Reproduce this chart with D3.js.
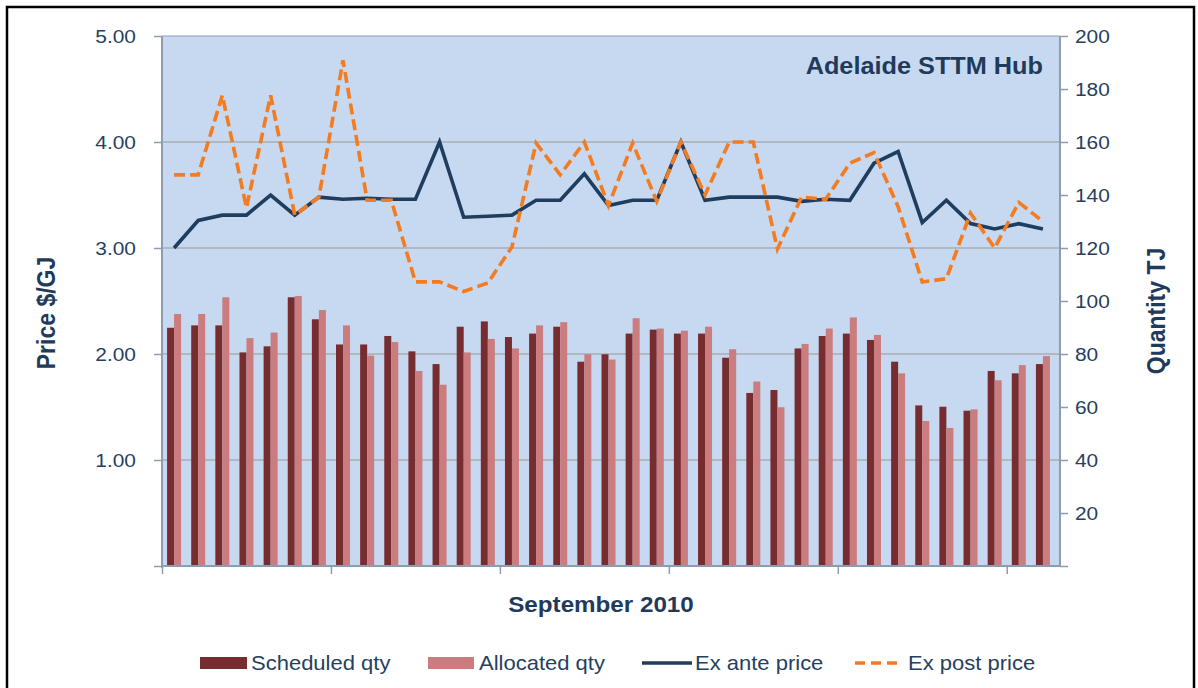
<!DOCTYPE html>
<html><head><meta charset="utf-8">
<script src="https://cdn.jsdelivr.net/npm/d3@7"></script>
<style>
body{margin:0;background:#fff;}
svg{display:block;font-family:"Liberation Sans",Arial,Helvetica,sans-serif;}
</style>
</head><body>
<svg id="chart" width="1198" height="688"></svg>
<script>
// ---- data ----
const categories = ["1","2","3","4","5","6","7","8","9","10","11","12","13","14","15","16","17","18","19","20",
  "21","22","23","24","25","26","27","28","29","30","31","32","33","34","35","36","37"];
const scheduledQty = [89.9,90.8,90.8,80.6,82.9,101.4,93.1,83.6,83.6,86.8,81.0,76.2,90.3,92.3,86.4,87.7,90.3,77.1,79.9,87.7,
  89.2,87.7,87.7,78.6,65.3,66.4,82.1,86.8,87.7,85.3,77.1,60.6,60.1,58.6,73.6,72.7,76.2];
const allocatedQty = [95.1,95.1,101.4,86.0,88.1,101.9,96.6,90.8,79.4,84.5,73.6,68.4,80.6,85.7,82.1,90.8,92.0,79.9,77.9,93.5,
  89.6,88.8,90.3,81.8,69.6,59.9,83.8,89.6,93.8,87.2,72.7,54.7,52.1,59.1,70.1,75.8,79.2];
const exAntePrice = [3.00,3.26,3.31,3.31,3.50,3.31,3.48,3.46,3.47,3.46,3.46,4.00,3.29,3.30,3.31,3.45,3.45,3.70,3.40,3.45,
  3.45,4.00,3.45,3.48,3.48,3.48,3.44,3.46,3.45,3.80,3.91,3.24,3.45,3.23,3.18,3.23,3.18];
const exPostPrice = [3.69,3.69,4.44,3.38,4.44,3.31,3.48,4.77,3.45,3.45,2.68,2.68,2.59,2.67,3.01,3.99,3.69,4.00,3.40,3.99,
  3.44,4.00,3.50,4.00,4.00,2.99,3.48,3.46,3.80,3.90,3.39,2.68,2.71,3.33,3.00,3.43,3.25];
const priceTicks = [0,1,2,3,4,5];
const qtyTicks = [0,20,40,60,80,100,120,140,160,180,200];
const dayTickEvery = 7;
const seriesNames = ["Scheduled qty","Allocated qty","Ex ante price","Ex post price"];
const chartTitle = "Adelaide STTM Hub";
const xTitle = "September 2010";
const yLeftTitle = "Price $/GJ";
const yRightTitle = "Quantity  TJ";

// ---- styling / layout ----
const C = {
  bg:"#C6D9F0", grid:"#A9ADB3", axis:"#8E9CB0", text:"#263F5E", title:"#1F3A5A",
  sched:"#772C2F", alloc:"#CA7C7E", ante:"#1F3D5E", post:"#F47B20"
};
const L = 162, R = 1060, T = 36, B = 566, bandR = 1055;
const SX = 1.1; // horizontal stretch of the reference text

const svg = d3.select("#chart");
svg.append("rect").attr("x",7).attr("y",7).attr("width",1187).attr("height",700)
  .attr("fill","#fff").attr("stroke","#000").attr("stroke-width",2.5);

const x = d3.scaleBand().domain(categories).range([L,bandR]).paddingInner(0.42).paddingOuter(0.21);
const xs = d3.scaleBand().domain(["s","a"]).range([0,x.bandwidth()]);
const xIdx = d3.scaleLinear().domain([0,categories.length]).range([L,bandR]);
const yL = d3.scaleLinear().domain([0,5]).range([B,T]);
const yR = d3.scaleLinear().domain([0,200]).range([B,T]);

// plot background
svg.append("rect").attr("x",L).attr("y",T).attr("width",R-L).attr("height",B-T).attr("fill",C.bg);

// gridlines
svg.append("g").selectAll("line").data(priceTicks.filter(d=>d>0 && d<5)).join("line")
  .attr("x1",L).attr("x2",R).attr("y1",d=>yL(d)).attr("y2",d=>yL(d))
  .attr("stroke",C.grid).attr("stroke-width",1.6);

// bars
const gb = svg.append("g");
categories.forEach((c,i)=>{
  gb.append("rect").attr("x",x(c)+xs("s")).attr("width",xs.bandwidth())
    .attr("y",yR(scheduledQty[i])).attr("height",B-yR(scheduledQty[i])).attr("fill",C.sched);
  gb.append("rect").attr("x",x(c)+xs("a")).attr("width",xs.bandwidth())
    .attr("y",yR(allocatedQty[i])).attr("height",B-yR(allocatedQty[i])).attr("fill",C.alloc);
});

// lines
const cx = (d,i)=>x(categories[i])+x.bandwidth()/2;
const lineGen = d3.line().x(cx).y(d=>yL(d));
svg.append("path").attr("d",lineGen(exAntePrice)).attr("fill","none")
  .attr("stroke",C.ante).attr("stroke-width",3.6).attr("stroke-linejoin","miter");
svg.append("path").attr("d",lineGen(exPostPrice)).attr("fill","none")
  .attr("stroke",C.post).attr("stroke-width",3.6).attr("stroke-dasharray","11,5");

// frame lines
svg.append("line").attr("x1",L).attr("x2",R).attr("y1",T).attr("y2",T).attr("stroke",C.axis).attr("stroke-width",1.2);
svg.append("line").attr("x1",L).attr("x2",R).attr("y1",B).attr("y2",B).attr("stroke",C.axis).attr("stroke-width",2);
svg.append("line").attr("x1",L).attr("x2",L).attr("y1",T).attr("y2",B+2).attr("stroke",C.axis).attr("stroke-width",2);
svg.append("line").attr("x1",R).attr("x2",R).attr("y1",T).attr("y2",B).attr("stroke",C.axis).attr("stroke-width",2);

// axes
const ax = svg.append("g").attr("transform",`translate(0,${B})`)
  .call(d3.axisBottom(xIdx).tickValues(d3.range(0,categories.length,dayTickEvery)).tickFormat("").tickSize(8));
ax.select(".domain").remove();
ax.selectAll("line").attr("stroke",C.axis).attr("stroke-width",1.5);

const al = svg.append("g").attr("transform",`translate(${L},0)`)
  .call(d3.axisLeft(yL).tickValues(priceTicks).tickSize(8).tickFormat(d=>d===0?"":d.toFixed(2)));
al.select(".domain").remove();
al.selectAll("line").attr("stroke",C.axis).attr("stroke-width",1.5);
al.selectAll("text").attr("x",null).attr("transform","translate(-26,0) scale("+SX+",1)")
  .attr("font-size",19).attr("fill",C.text).attr("font-family",null);

const ar = svg.append("g").attr("transform",`translate(${R},0)`)
  .call(d3.axisRight(yR).tickValues(qtyTicks).tickSize(8).tickFormat(d=>d===0?"":String(d)));
ar.select(".domain").remove();
ar.selectAll("line").attr("stroke",C.axis).attr("stroke-width",1.5);
ar.selectAll("text").attr("x",null).attr("transform","translate(15,0) scale("+SX+",1)")
  .attr("font-size",19).attr("fill",C.text).attr("font-family",null);

// titles
function txt(xp,yp,s,o){
  return svg.append("text").attr("transform",`translate(${xp},${yp}) ${o.rot?"rotate(-90) scale(1,"+SX+")":"scale("+SX+",1)"}`)
    .attr("text-anchor",o.anchor||"start").attr("font-size",o.size).attr("font-weight",o.bold?"bold":"normal")
    .attr("fill",o.fill||C.title).text(s);
}
txt(1043,74,chartTitle,{anchor:"end",size:23,bold:true});
txt(601,612,xTitle,{anchor:"middle",size:22,bold:true});
txt(55,313,yLeftTitle,{anchor:"middle",size:23,bold:true,rot:true});
txt(1165,311,yRightTitle,{anchor:"middle",size:23,bold:true,rot:true});

// legend
const ly = 663;
svg.append("rect").attr("x",200).attr("y",ly-6).attr("width",47).attr("height",12).attr("fill",C.sched);
txt(251,ly+7,seriesNames[0],{size:20,fill:C.text});
svg.append("rect").attr("x",428).attr("y",ly-6).attr("width",46).attr("height",12).attr("fill",C.alloc);
txt(479,ly+7,seriesNames[1],{size:20,fill:C.text});
svg.append("line").attr("x1",642).attr("x2",692).attr("y1",ly).attr("y2",ly).attr("stroke",C.ante).attr("stroke-width",3.6);
txt(695,ly+7,seriesNames[2],{size:20,fill:C.text});
svg.append("line").attr("x1",855).attr("x2",900).attr("y1",ly).attr("y2",ly).attr("stroke",C.post).attr("stroke-width",3.6).attr("stroke-dasharray","10,6");
txt(908,ly+7,seriesNames[3],{size:20,fill:C.text});
</script>
</body></html>
